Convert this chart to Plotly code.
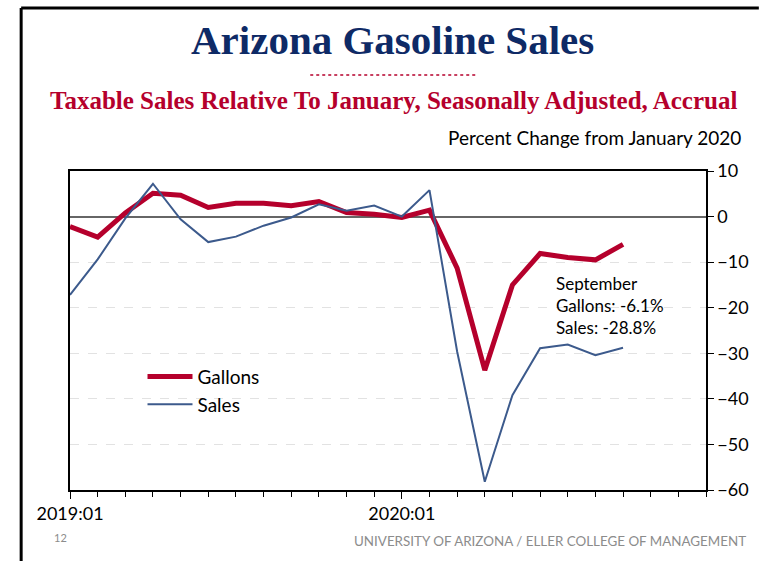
import plotly.graph_objects as go

months = list(range(21))  # 0 = 2019:01 ... 20 = 2020:09
gallons = [-2.2, -4.5, 0.8, 5.1, 4.7, 2.0, 2.9, 2.9, 2.4, 3.3, 0.9, 0.5, -0.2,
           1.4, -11.3, -33.7, -15.0, -8.1, -9.0, -9.5, -6.1]
sales = [-17.2, -9.4, -0.4, 7.2, -0.6, -5.6, -4.4, -2.0, -0.2, 2.7, 1.3, 2.4, 0.0,
         5.8, -29.6, -58.2, -39.2, -28.9, -28.1, -30.4, -28.8]
x_tickvals = [0, 12]
x_ticklabels = ["2019:01", "2020:01"]
y_tickvals = [10, 0, -10, -20, -30, -40, -50, -60]

RED = "#B5002C"
BLUE = "#3C5A8C"
NAVY = "#0E2A66"
AXFONT = "Lato"

W, H = 761, 561
L, R, T, B = 70, 708, 171, 490


def py(ypix):
    return (B - ypix) / (B - T)


def px(xpix):
    return (xpix - L) / (R - L)


fig = go.Figure()
fig.add_trace(go.Scatter(x=months, y=gallons, mode="lines", name="Gallons",
                         line=dict(color=RED, width=5)))
fig.add_trace(go.Scatter(x=months, y=sales, mode="lines", name="Sales",
                         line=dict(color=BLUE, width=2)))

fig.update_layout(
    width=W, height=H,
    margin=dict(l=L, r=W - R, t=T, b=H - B),
    paper_bgcolor="white", plot_bgcolor="white",
    showlegend=True,
    legend=dict(x=0.114, y=0.415, xanchor="left", yanchor="top",
                bgcolor="rgba(0,0,0,0)", font=dict(family=AXFONT, size=19, color="black"),
                itemwidth=45),
    font=dict(family=AXFONT, color="black"),
)

fig.update_xaxes(range=[0, 23], tickvals=x_tickvals, ticktext=x_ticklabels,
                 ticks="outside", ticklen=7, tickcolor="black",
                 showline=True, linecolor="black", linewidth=1.5, mirror=True,
                 showgrid=False, zeroline=False,
                 tickfont=dict(family=AXFONT, size=18, color="black"),
                 minor=dict(dtick=1, tick0=0, ticks="outside", ticklen=5, tickcolor="black",
                            showgrid=False))
fig.update_yaxes(range=[-60, 10], tickvals=y_tickvals, side="right",
                 ticks="outside", ticklen=6, tickcolor="black",
                 showline=True, linecolor="black", linewidth=1.5, mirror=True,
                 showgrid=True, gridcolor="#E2E2E2", griddash="dash", gridwidth=1,
                 zeroline=True, zerolinecolor="#666666", zerolinewidth=1.5,
                 tickfont=dict(family=AXFONT, size=18, color="black"))

fig.add_annotation(x=px(394), y=py(40), xref="paper", yref="paper",
                   text="<b>Arizona Gasoline Sales</b>", showarrow=False,
                   xanchor="center", yanchor="middle",
                   font=dict(family="Liberation Serif", size=41, color=NAVY))
fig.add_annotation(x=px(395), y=py(101), xref="paper", yref="paper",
                   text="<b>Taxable Sales Relative To January, Seasonally Adjusted, Accrual</b>",
                   showarrow=False, xanchor="center", yanchor="middle",
                   font=dict(family="Liberation Serif", size=25, color=RED))
fig.add_annotation(x=px(745), y=py(137), xref="paper", yref="paper",
                   text="Percent Change from January 2020", showarrow=False,
                   xanchor="right", yanchor="middle",
                   font=dict(family=AXFONT, size=19, color="black"))
fig.add_annotation(x=px(556), y=py(271), xref="paper", yref="paper",
                   text="September<br>Gallons: -6.1%<br>Sales: -28.8%", showarrow=False,
                   xanchor="left", yanchor="top", align="left",
                   font=dict(family=AXFONT, size=17, color="black"))
fig.add_annotation(x=px(52), y=py(537), xref="paper", yref="paper",
                   text="12", showarrow=False, xanchor="left", yanchor="middle",
                   font=dict(family=AXFONT, size=11, color="#8C8C8C"))
fig.add_annotation(x=px(750), y=py(541), xref="paper", yref="paper",
                   text="UNIVERSITY OF ARIZONA / ELLER COLLEGE OF MANAGEMENT", showarrow=False,
                   xanchor="right", yanchor="middle",
                   font=dict(family=AXFONT, size=13.4, color="#8C8C8C"))

# decorative slide frame and dotted separator
fig.add_shape(type="line", xref="paper", yref="paper", x0=px(21), x1=px(21), y0=py(8), y1=py(561),
              line=dict(color="black", width=3))
fig.add_shape(type="line", xref="paper", yref="paper", x0=px(21), x1=px(761), y0=py(8), y1=py(8),
              line=dict(color="black", width=3))
fig.add_shape(type="line", xref="paper", yref="paper", x0=px(311), x1=px(478), y0=py(75), y1=py(75),
              line=dict(color=RED, width=1.5, dash="dot"))

fig.write_html("out.html", config={"displayModeBar": False},
               post_script="document.body.style.margin='0';document.body.style.overflow='hidden';")
